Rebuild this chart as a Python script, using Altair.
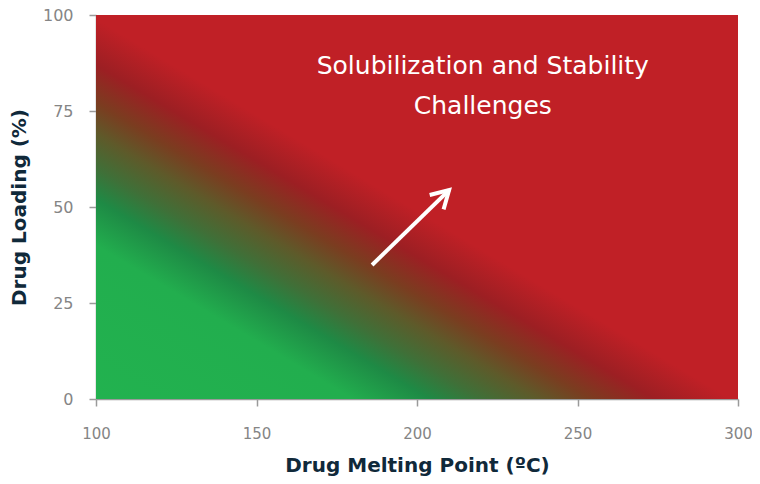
import altair as alt
import pandas as pd

# Axis ranges / ticks
x_ticks = [100, 150, 200, 250, 300]
y_ticks = [0, 25, 50, 75, 100]

# Background region (full plot)
region_x = [100]
region_x2 = [300]
region_y = [0]
region_y2 = [100]

# Gradient stops (position along diagonal, colour)
stop_offsets = [0.0, 0.20, 0.26, 0.30, 0.345, 0.385, 0.435, 0.495, 1.0]
stop_colors = ["#22B24F", "#22AE4E", "#1E8A45", "#3F7038", "#5E5A2A", "#7A3D20", "#9C1F23", "#C02026", "#C02026"]

# Arrow (data coordinates)
arrow_x = [186]
arrow_y = [34.9]
arrow_x2 = [210]
arrow_y2 = [54.4]

# Annotation
label_x = [220.5]
label_y = [86.7]
label_text = [["Solubilization and Stability", "Challenges"]]

bg = pd.DataFrame({"x": region_x, "x2": region_x2, "y": region_y, "y2": region_y2})
arr = pd.DataFrame({"x": arrow_x, "y": arrow_y, "x2": arrow_x2, "y2": arrow_y2})
lab = pd.DataFrame({"x": label_x, "y": label_y, "t": label_text})

xscale = alt.Scale(domain=[100, 300], nice=False, zero=False)
yscale = alt.Scale(domain=[0, 100], nice=False, zero=False)

grad = alt.LinearGradient(
    gradient="linear",
    x1=0, y1=1, x2=1, y2=0,
    stops=[alt.GradientStop(offset=o, color=c) for o, c in zip(stop_offsets, stop_colors)],
)

xaxis = alt.Axis(values=x_ticks, title="Drug Melting Point (ºC)", grid=False, labelFlush=False,
                 labelPadding=20, titlePadding=14, labelFontSize=15)
yaxis = alt.Axis(values=y_ticks, title="Drug Loading (%)", grid=False, labelFlush=False,
                 labelPadding=16, titlePadding=13, labelFontSize=16)

rect = alt.Chart(bg).mark_rect(fill=grad).encode(
    x=alt.X("x:Q", scale=xscale, axis=xaxis),
    x2="x2:Q",
    y=alt.Y("y:Q", scale=yscale, axis=yaxis),
    y2="y2:Q",
)

shaft = alt.Chart(arr).mark_rule(color="white", strokeWidth=4, strokeCap="butt").encode(
    x=alt.X("x:Q", scale=xscale), y=alt.Y("y:Q", scale=yscale), x2="x2:Q", y2="y2:Q"
)

head = alt.Chart(arr).mark_point(
    shape="M -0.577 1 L 0 0 L 0.577 1", filled=False, stroke="white", strokeWidth=4,
    size=1200, angle=46, opacity=1, strokeJoin="miter", strokeCap="butt"
).encode(x=alt.X("x2:Q", scale=xscale), y=alt.Y("y2:Q", scale=yscale))

text = alt.Chart(lab).mark_text(
    color="white", fontSize=25, font="DejaVu Sans", lineHeight=40, align="center", baseline="middle"
).encode(x=alt.X("x:Q", scale=xscale), y=alt.Y("y:Q", scale=yscale), text="t")

chart = alt.layer(rect, shaft, head, text).properties(
    width=642, height=384,
    autosize=alt.AutoSizeParams(type="none"),
    padding={"left": 88, "top": 7, "right": 14, "bottom": 80},
).configure_view(stroke=None).configure_axis(
    domainColor="#9a9a9a", domainWidth=1.5, tickColor="#9a9a9a", tickWidth=1.5, tickSize=7,
    labelColor="#858585", labelFont="DejaVu Sans",
    titleColor="#10293A", titleFontSize=20, titleFont="DejaVu Sans", titleFontWeight="bold",
)

chart.save("out.html", embed_options={"renderer": "svg", "actions": False})
